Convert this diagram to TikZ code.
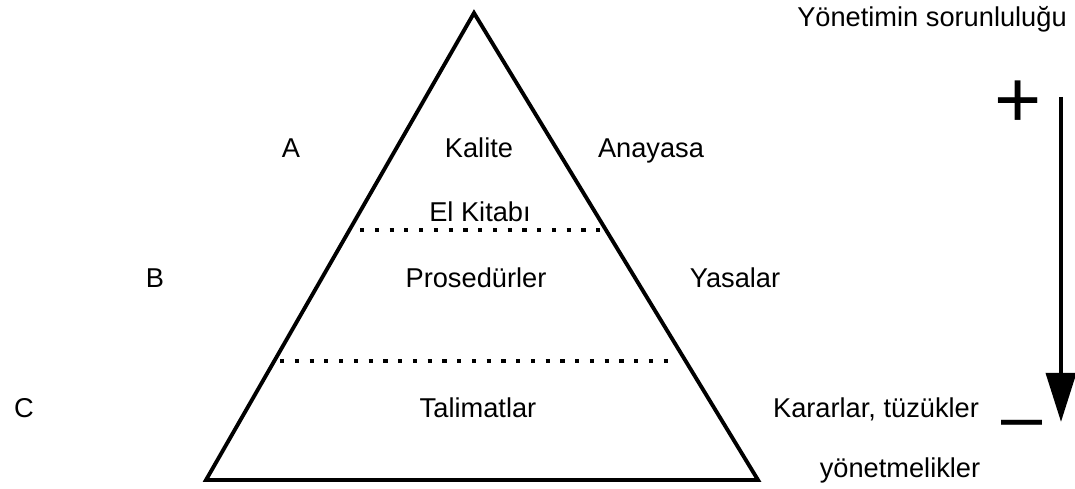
\documentclass[tikz,border=0pt]{standalone}
\usepackage{fontspec}
\setmainfont{Liberation Sans}
\usepackage{tikz}
\usetikzlibrary{calc}
\usetikzlibrary{arrows.meta}
\tikzset{labl/.style={anchor=base, inner sep=0pt, font=\fontsize{15.5}{18}\selectfont}}
\newcommand{\labltext}[4]{\node[labl] (#1) at ( #2 , #3 ) {#4};}
\newcommand{\levelline}[2]{\draw[line width=1.8pt, dash pattern=on 2.4pt off 6pt] (#1) -- (#2);}

\begin{document}
\begin{tikzpicture}[x=0.02cm,y=-0.02cm]
        \useasboundingbox (0,0) rectangle (1075,489);
        % pyramid
        \coordinate (top) at (474,13);
        \coordinate (bl) at (206,480);
        \coordinate (br) at (758,480);
        \draw[line width=2.2pt, line join=miter] (top) -- (bl) -- (br) -- cycle;

        % levels
        \coordinate (lv1a) at (360,230);
        \coordinate (lv1b) at (602,230);
        \coordinate (lv2a) at (280,361);
        \coordinate (lv2b) at (674,361);
        \levelline{lv1a}{lv1b}
        \levelline{lv2a}{lv2b}

        % row A
        \labltext{la}{291}{158}{A}
        \labltext{kalite}{479}{158}{Kalite}
        \labltext{anayasa}{651}{158}{Anayasa}
        \labltext{elkitabi}{480}{222}{El Kitabı}

        % row B
        \labltext{lb}{155}{288}{B}
        \labltext{prosedur}{476}{288}{Prosedürler}
        \labltext{yasalar}{735}{288}{Yasalar}

        % row C
        \labltext{lc}{24}{418}{C}
        \labltext{talimat}{478}{418}{Talimatlar}
        \labltext{kararlar}{876}{418}{Kararlar, tüzükler}
        \labltext{yonetmelik}{900}{478}{yönetmelikler}

        % responsibility
        \labltext{sorumluluk}{932}{27}{Yönetimin sorunluluğu}
        \coordinate (arrtop) at (1061,97);
        \coordinate (arrtip) at (1061,422);
        \draw[line width=2.5pt, -{Triangle[length=28pt,width=17pt]}] (arrtop) -- (arrtip);
        \node[inner sep=0pt, font=\fontsize{46}{46}\selectfont] (plus) at (1018,104) {+};
        \node[inner sep=0pt, font=\fontsize{42}{42}\selectfont] (minus) at (1022,431) {–};
\end{tikzpicture}
\end{document}
